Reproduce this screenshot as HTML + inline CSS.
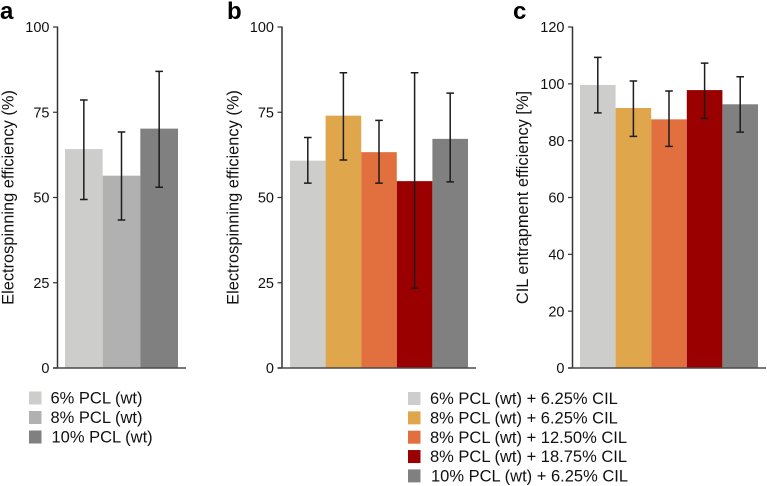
<!DOCTYPE html>
<html><head><meta charset="utf-8">
<style>
html,body{margin:0;padding:0;background:#fff;width:767px;height:486px;overflow:hidden}
svg{display:block;font-family:"Liberation Sans",sans-serif}
</style></head>
<body>
<svg id="fig" width="767" height="486" viewBox="0 0 767 486" xmlns="http://www.w3.org/2000/svg"></svg>
<script>
// Panel a
const aCategories = ["6% PCL (wt)", "8% PCL (wt)", "10% PCL (wt)"];
const aValues = [64.2, 56.4, 70.2];
const aUpper = [78.6, 69.2, 87];
const aLower = [49.4, 43.4, 53];
const aTicks = [0, 25, 50, 75, 100];
// Panel b
const bCategories = ["6% PCL (wt) + 6.25% CIL", "8% PCL (wt) + 6.25% CIL", "8% PCL (wt) + 12.50% CIL", "8% PCL (wt) + 18.75% CIL", "10% PCL (wt) + 6.25% CIL"];
const bValues = [60.8, 74, 63.3, 54.8, 67.2];
const bUpper = [67.6, 86.6, 72.6, 86.6, 80.6];
const bLower = [54.2, 61, 54.2, 23.4, 54.6];
const bTicks = [0, 25, 50, 75, 100];
// Panel c
const cValues = [99.6, 91.5, 87.5, 97.8, 92.8];
const cUpper = [109.3, 101, 97.5, 107.3, 102.5];
const cLower = [89.8, 81.5, 78, 87.8, 83];
const cTicks = [0, 20, 40, 60, 80, 100, 120];

const aColors = ["#cdcdcb", "#b1b1b1", "#808080"];
const bColors = ["#cdcdcb", "#dfa64b", "#e2703f", "#9b0000", "#808080"];

const NS = "http://www.w3.org/2000/svg";
const fig = document.getElementById("fig");
function mk(tag, attrs, parent, text) {
  const el = document.createElementNS(NS, tag);
  for (const k in attrs) el.setAttribute(k, attrs[k]);
  if (text !== undefined) el.textContent = text;
  (parent || fig).appendChild(el);
  return el;
}
function drawPanel(p) {
  const g = mk("g", {});
  
  
  const yTop = 27, yBot = 368;
  const y = v => yBot - (v / p.max) * (yBot - yTop);
  const bw = (p.x1 - p.x0) / p.values.length;
  const x = i => p.x0 + i * bw;

  const letter = mk("text", {x: p.letterX, y: 19, "font-size": 24, "font-weight": "bold", fill: "#000"}, g, p.letter);
  
  

  p.values.forEach((v, i) => {
    const bar = mk("rect", {x: x(i), y: y(v), width: bw, height: yBot - y(v), fill: p.colors[i]}, g);
    
    
  });
  p.values.forEach((v, i) => {
    const cx = x(i) + bw / 2;
    const e = mk("path", {
      d: "M" + cx + " " + y(p.upper[i]) + "V" + y(p.lower[i]) +
         "M" + (cx - 3.8) + " " + y(p.upper[i]) + "h7.6" +
         "M" + (cx - 3.8) + " " + y(p.lower[i]) + "h7.6",
      stroke: "#1c1c1c", "stroke-width": 1.5, fill: "none"}, g);
    
    
  });

  const yAxis = mk("line", {x1: p.axisX, x2: p.axisX, y1: yTop - 0.5, y2: yBot + 0.5, stroke: "#333", "stroke-width": 1.5}, g);
  
  
  const xAxis = mk("line", {x1: p.axisX - 4.5, x2: p.axisEnd, y1: yBot, y2: yBot, stroke: "#4a4a4a", "stroke-width": 1.4}, g);
  
  

  p.ticks.forEach(t => {
    const tk = mk("line", {x1: p.axisX - 4.5, x2: p.axisX, y1: y(t), y2: y(t), stroke: "#333", "stroke-width": 1.2}, g);
    
    
    const lb = mk("text", {x: p.axisX - 8, y: y(t) + 5.2, "font-size": 14.5, "text-anchor": "end", fill: "#111"}, g, String(t));
    
    
  });

  const title = mk("text", {x: 0, y: 0, "font-size": 16.4, "text-anchor": "middle", fill: "#111",
    transform: "translate(" + p.titleX + " " + p.titleY + ") rotate(-90)"}, g, p.title);
  
  
}
function drawLegend(cats, colors, sx, tx, y0, dy, name) {
  const g = mk("g", {});
  
  
  cats.forEach((c, i) => {
    const cy = y0 + i * dy;
    const s = mk("rect", {x: sx, y: cy - 6.5, width: 12.5, height: 13, fill: colors[i]}, g);
    
    
    const t = mk("text", {x: c.startsWith("10") ? tx + 1 : tx, y: cy + 5.6, "font-size": 16.5, fill: "#111"}, g, c);
    
    
  });
}
drawPanel({letter: "a", letterX: 0, axisX: 57.5, axisEnd: 186, x0: 65, x1: 178, max: 100,
  values: aValues, upper: aUpper, lower: aLower, ticks: aTicks, colors: aColors,
  title: "Electrospinning efficiency (%)", titleX: 13.5, titleY: 197.5});
drawPanel({letter: "b", letterX: 227, axisX: 282, axisEnd: 476, x0: 290, x1: 468, max: 100,
  values: bValues, upper: bUpper, lower: bLower, ticks: bTicks, colors: bColors,
  title: "Electrospinning efficiency (%)", titleX: 238.5, titleY: 197.5});
drawPanel({letter: "c", letterX: 513, axisX: 572.5, axisEnd: 766, x0: 580, x1: 758, max: 120,
  values: cValues, upper: cUpper, lower: cLower, ticks: cTicks, colors: bColors,
  title: "CIL entrapment efficiency [%]", titleX: 528, titleY: 197.5});
drawLegend(aCategories, aColors, 29, 50.5, 398, 19.5, "legend-a");
drawLegend(bCategories, bColors, 408, 430, 398.5, 19.35, "legend-b");
</script>
</body></html>
